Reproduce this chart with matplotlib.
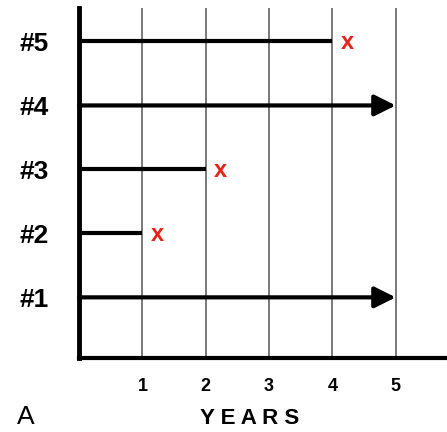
import matplotlib.pyplot as plt

plt.rcParams['font.family'] = ['Liberation Sans', 'DejaVu Sans']

# subjects, years followed, and whether an event (x) ended follow-up
subjects = ['#1', '#2', '#3', '#4', '#5']
rows = [1, 2, 3, 4, 5]
years = [5, 1, 2, 5, 4]
event = [False, True, True, False, True]
year_ticks = [1, 2, 3, 4, 5]

fig = plt.figure(figsize=(4.47, 4.32), dpi=100)
ax = fig.add_axes([0.177, 0.171, 0.823, 0.81])

for yr in year_ticks:
    ax.axvline(yr, color='#555555', lw=1.1, zorder=1)

for r, t, ev in zip(rows, years, event):
    if ev:
        ax.plot([0, t], [r, r], color='black', lw=3.0, solid_capstyle='butt', zorder=3)
        ax.text(t + 0.23, r - 0.02, 'x', color='#e8231a', fontsize=17, fontweight='bold',
                ha='center', va='center', zorder=4)
    else:
        ax.annotate('', xy=(t, r), xytext=(0, r),
                    arrowprops=dict(arrowstyle='-|>', lw=3.0, color='black',
                                    mutation_scale=32, shrinkA=0, shrinkB=0),
                    zorder=3)

ax.set_xlim(0, 5.81)
ax.set_ylim(0.05, 5.52)

ax.spines['top'].set_visible(False)
ax.spines['right'].set_visible(False)
ax.spines['left'].set_linewidth(3.5)
ax.spines['bottom'].set_linewidth(3.0)

ax.set_xticks(year_ticks)
ax.set_xticklabels([str(v) for v in year_ticks], fontsize=13, fontweight='bold')
ax.set_yticks(rows)
ax.set_yticklabels(subjects, fontsize=19, fontweight='bold')
ax.tick_params(axis='x', length=0, pad=14)
ax.tick_params(axis='y', length=0, pad=22)

fig.text(0.559, 0.032, 'Y E A R S', fontsize=16, fontweight='bold',
         ha='center', va='center')
fig.text(0.058, 0.035, 'A', fontsize=19, ha='center', va='center')

fig.savefig('out.png', dpi=100)
